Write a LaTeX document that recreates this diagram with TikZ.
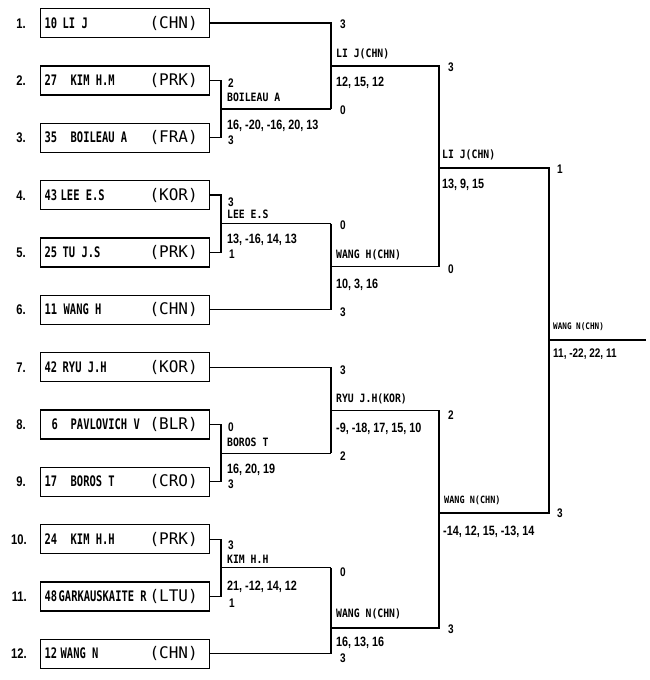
\documentclass[tikz,border=0pt]{standalone}
\usepackage{fontspec}
\newfontfamily\mnA[FakeStretch=0.72, UprightFont={* Bold}]{DejaVu Sans Mono}
\newfontfamily\mnB[FakeStretch=0.85, UprightFont={* Bold}]{DejaVu Sans Mono}
\newfontfamily\cnB[FakeStretch=0.8, UprightFont={* Bold}]{Liberation Sans}
\newfontfamily\ccf{DejaVu Sans Mono}
\newcommand\plbox[4]{\makebox[169pt][l]{\hspace*{4pt}{\mnA\fontsize{14.5pt}{16pt}\selectfont\makebox[#1][l]{#2}#3}\hfill{\ccf\fontsize{16pt}{18pt}\selectfont(#4)}\hspace*{12pt}}}
\tikzset{
  conn/.style={line width=1.2pt, line join=miter},
  pbox/.style={draw, line width=1.4pt, inner sep=0pt, minimum width=169pt, minimum height=29pt, anchor=west},
  rnum/.style={anchor=east, inner sep=0pt, text height=10pt, text depth=0pt, font=\cnB\fontsize{14pt}{16pt}\selectfont},
  sc/.style={anchor=west, inner sep=0pt, text height=9pt, text depth=0pt, font=\cnB\fontsize{12.5pt}{14pt}\selectfont},
  games/.style={anchor=west, inner sep=0pt, text height=9.6pt, text depth=0pt, font=\cnB\fontsize{13.5pt}{15pt}\selectfont},
  gamess/.style={anchor=west, inner sep=0pt, text height=8.9pt, text depth=0pt, font=\cnB\fontsize{12.5pt}{14pt}\selectfont},
  wn/.style={anchor=west, inner sep=0pt, text height=8.4pt, text depth=0pt, font=\mnB\fontsize{11.5pt}{13pt}\selectfont},
  wnm/.style={anchor=west, inner sep=0pt, text height=7.3pt, text depth=0pt, font=\mnB\fontsize{10pt}{12pt}\selectfont},
  wns/.style={anchor=west, inner sep=0pt, text height=6.6pt, text depth=0pt, font=\mnB\fontsize{9pt}{11pt}\selectfont},
}
\begin{document}
\begin{tikzpicture}[x=1pt,y=-1pt]
\useasboundingbox (0,0) rectangle (650,680);

% player boxes
\node[pbox] (p1)  at (40,23)     {\plbox{18pt}{10}{LI J}{CHN}};
\node[pbox] (p2)  at (40,80.35)  {\plbox{26pt}{27}{KIM H.M}{PRK}};
\node[pbox] (p3)  at (40,137.7)  {\plbox{26pt}{35}{BOILEAU A}{FRA}};
\node[pbox] (p4)  at (40,195.05) {\plbox{16pt}{43}{LEE E.S}{KOR}};
\node[pbox] (p5)  at (40,252.4)  {\plbox{18pt}{25}{TU J.S}{PRK}};
\node[pbox] (p6)  at (40,309.75) {\plbox{19pt}{11}{WANG H}{CHN}};
\node[pbox] (p7)  at (40,367.1)  {\plbox{18pt}{42}{RYU J.H}{KOR}};
\node[pbox] (p8)  at (40,424.45) {\plbox{26pt}{\hspace*{7pt}6}{PAVLOVICH V}{BLR}};
\node[pbox] (p9)  at (40,481.8)  {\plbox{26pt}{17}{BOROS T}{CRO}};
\node[pbox] (p10) at (40,539.15) {\plbox{26pt}{24}{KIM H.H}{PRK}};
\node[pbox] (p11) at (40,596.5)  {\plbox{14pt}{48}{GARKAUSKAITE R}{LTU}};
\node[pbox] (p12) at (40,653.85) {\plbox{16pt}{12}{WANG N}{CHN}};

% row numbers
\node[rnum] (n1)  at (26,23)     {1.};
\node[rnum] (n2)  at (26,80.35)  {2.};
\node[rnum] (n3)  at (26,137.7)  {3.};
\node[rnum] (n4)  at (26,195.05) {4.};
\node[rnum] (n5)  at (26,252.4)  {5.};
\node[rnum] (n6)  at (26,309.75) {6.};
\node[rnum] (n7)  at (26,367.1)  {7.};
\node[rnum] (n8)  at (26,424.45) {8.};
\node[rnum] (n9)  at (26,481.8)  {9.};
\node[rnum] (n10) at (27,539.15) {10.};
\node[rnum] (n11) at (27,596.5)  {11.};
\node[rnum] (n12) at (27,653.85) {12.};

% junction coordinates
\coordinate (b23)   at (221,109.0);  \coordinate (m23)   at (331,109.0);
\coordinate (b45)   at (221,223.7);  \coordinate (m45)   at (331,223.7);
\coordinate (b89)   at (221,453.1);  \coordinate (m89)   at (331,453.1);
\coordinate (b1011) at (221,567.8);  \coordinate (m1011) at (331,567.8);
\coordinate (c1) at (331,66);    \coordinate (q1) at (439,66);
\coordinate (c2) at (331,266.7); \coordinate (q2) at (439,266.7);
\coordinate (c3) at (331,410.1); \coordinate (q3) at (439,410.1);
\coordinate (c4) at (331,628);   \coordinate (q4) at (439,628);
\coordinate (cs1) at (439,168);  \coordinate (s1) at (549,168);
\coordinate (cs2) at (439,513);  \coordinate (s2) at (549,513);
\coordinate (cf) at (549,340);   \coordinate (fend) at (646,340);

% first round
\draw[conn] (p2.east) -| (b23) |- (p3.east);  \draw[conn] (b23) -- (m23);
\draw[conn] (p4.east) -| (b45) |- (p5.east);  \draw[conn] (b45) -- (m45);
\draw[conn] (p8.east) -| (b89) |- (p9.east);  \draw[conn] (b89) -- (m89);
\draw[conn] (p10.east) -| (b1011) |- (p11.east); \draw[conn] (b1011) -- (m1011);
% second round
\draw[conn] (p1.east) -| (m23);
\draw[conn] (m45) |- (p6.east);
\draw[conn] (p7.east) -| (m89);
\draw[conn] (m1011) |- (p12.east);
% third round
\draw[conn] (c1) -- (q1) -- (q2) -- (c2);
\draw[conn] (c3) -- (q3) -- (q4) -- (c4);
% semi finals and final
\draw[conn] (cs1) -- (s1) -- (s2) -- (cs2);
\draw[conn] (cf) -- (fend);

% labels round 1
\node[sc] (a1) at (228,83) {2};
\node[wn] (a2) at (227,97) {BOILEAU A};
\node[games] (a3) at (227,125) {16, -20, -16, 20, 13};
\node[sc] (a4) at (228,140) {3};
\node[sc] (b1) at (228,202) {3};
\node[wn] (b2) at (227,214) {LEE E.S};
\node[games] (b3) at (227,239) {13, -16, 14, 13};
\node[sc] (b4) at (229,254) {1};
\node[sc] (c1l) at (228,427) {0};
\node[wn] (c2l) at (227,442) {BOROS T};
\node[games] (c3l) at (227,469) {16, 20, 19};
\node[sc] (c4l) at (228,484) {3};
\node[sc] (d1) at (228,545) {3};
\node[wn] (d2) at (227,559) {KIM H.H};
\node[games] (d3) at (227,586) {21, -12, 14, 12};
\node[sc] (d4) at (229,603) {1};

% labels round 2
\node[sc] (e1) at (340,24) {3};
\node[wn] (e2) at (336,53) {LI J(CHN)};
\node[games] (e3) at (336,82) {12, 15, 12};
\node[sc] (e4) at (340,110) {0};
\node[sc] (f1) at (340,225) {0};
\node[wn] (f2) at (336,254) {WANG H(CHN)};
\node[games] (f3) at (336,284) {10, 3, 16};
\node[sc] (f4) at (340,312) {3};
\node[sc] (g1) at (340,370) {3};
\node[wn] (g2) at (336,398) {RYU J.H(KOR)};
\node[games] (g3) at (336,428) {-9, -18, 17, 15, 10};
\node[sc] (g4) at (340,456) {2};
\node[sc] (h1) at (340,572) {0};
\node[wn] (h2) at (336,613) {WANG N(CHN)};
\node[games] (h3) at (336,642) {16, 13, 16};
\node[sc] (h4) at (340,658) {3};

% labels round 3
\node[sc] (i1) at (448,67) {3};
\node[wn] (i2) at (442,154) {LI J(CHN)};
\node[games] (i3) at (442,184) {13, 9, 15};
\node[sc] (i4) at (448,269) {0};
\node[sc] (j1) at (448,415) {2};
\node[wnm] (j2) at (444,500) {WANG N(CHN)};
\node[games] (j3) at (443,531) {-14, 12, 15, -13, 14};
\node[sc] (j4) at (448,629) {3};

% final
\node[sc] (k1) at (557,169) {1};
\node[wns] (k2) at (553,326) {WANG N(CHN)};
\node[gamess] (k3) at (553,353) {11, -22, 22, 11};
\node[sc] (k4) at (557,513) {3};
\end{tikzpicture}
\end{document}
